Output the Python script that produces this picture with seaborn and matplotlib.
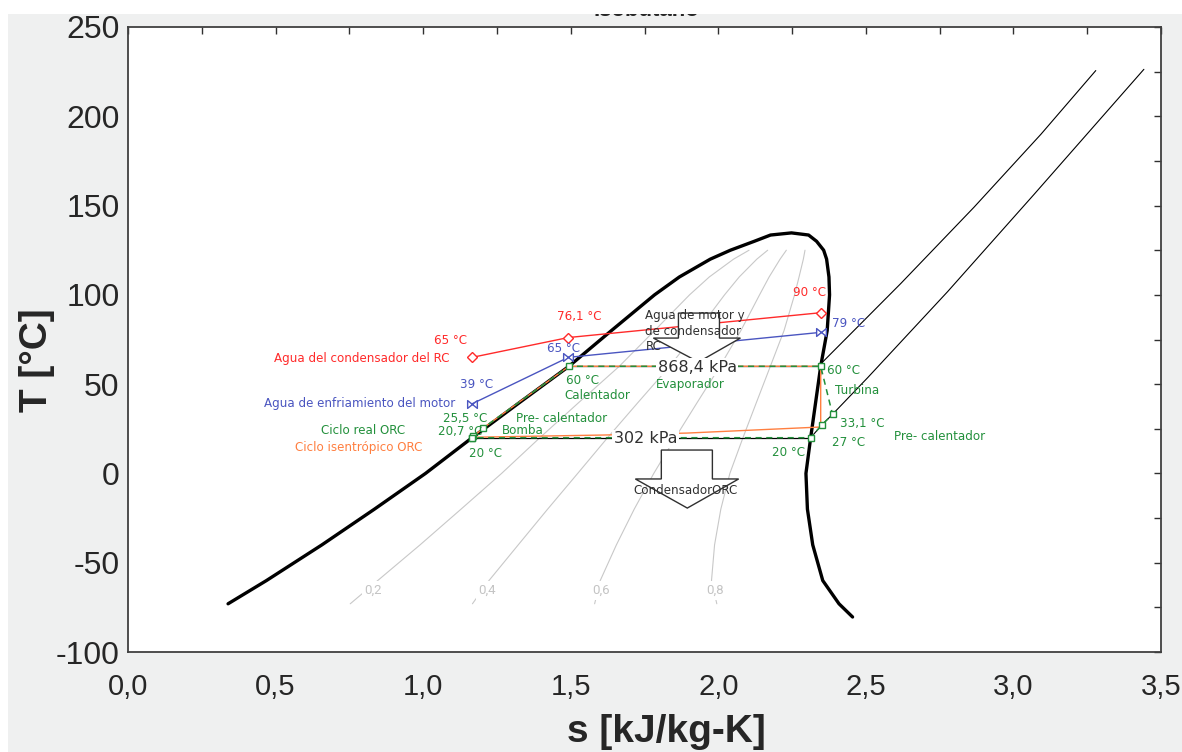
import numpy as np
import matplotlib
matplotlib.use("Agg")
import matplotlib.pyplot as plt
from matplotlib.patches import Rectangle, Polygon
from matplotlib.path import Path
from matplotlib.ticker import FuncFormatter, MultipleLocator
import seaborn as sns

# ---------------- data ----------------
# saturation dome of isobutane (T in degC, s in kJ/kg-K)
T_sat = [-73, -60, -40, -20, 0, 20, 40, 60, 80, 100, 110, 120, 125, 130, 133.5, 134.7]
s_liq = [0.339, 0.469, 0.657, 0.835, 1.008, 1.166, 1.329, 1.494, 1.638, 1.784, 1.868,
         1.973, 2.041, 2.122, 2.177, 2.248]
s_vap = [2.409, 2.354, 2.320, 2.302, 2.297, 2.313, 2.330, 2.347, 2.369, 2.377, 2.375,
         2.367, 2.357, 2.333, 2.306, 2.248]
T_vap_low = [-80.4]
s_vap_low = [2.455]

qualities = [0.2, 0.4, 0.6, 0.8]
quality_labels = ["0,2", "0,4", "0,6", "0,8"]
quality_label_s = [0.831, 1.218, 1.604, 1.990]
quality_label_T = -65.7

# superheated isobars
hp_s = [2.347, 2.353, 2.618, 2.866, 3.093, 3.279]
hp_T = [60.0, 62.3, 106.3, 149.0, 189.9, 225.6]
lp_s = [2.313, 2.350, 2.387, 2.506, 2.777, 3.069, 3.442]
lp_T = [20.0, 27.0, 33.1, 53.6, 101.8, 156.1, 226.3]

# isobars inside the dome
iso_high_T, iso_high_s = 60.0, [1.494, 2.347]
iso_low_T, iso_low_s = 20.0, [1.166, 2.313]

# real ORC cycle
real_s = [1.166, 1.170, 1.204, 1.494, 2.347, 2.387, 2.350, 2.313, 1.166]
real_T = [20.0, 20.7, 25.5, 60.0, 60.0, 33.1, 27.0, 20.0, 20.0]

# isentropic ORC cycle
isen_s = [1.166, 1.204, 1.494, 2.347, 2.347, 1.894, 1.610, 1.180, 1.166]
isen_T = [20.0, 25.5, 60.0, 60.0, 26.0, 22.6, 21.5, 20.3, 20.0]

# RC condenser water
red_s = [1.166, 1.492, 2.347]
red_T = [65.0, 76.1, 90.0]
# engine cooling water
blue_s = [1.166, 1.492, 2.347]
blue_T = [39.0, 65.0, 79.0]

x_ticks = [0.0, 0.5, 1.0, 1.5, 2.0, 2.5, 3.0, 3.5]
y_ticks = [-100, -50, 0, 50, 100, 150, 200, 250]

# ---------------- style ----------------
sns.set_style("white")
plt.rcParams['font.family'] = ['DejaVu Sans']

GREEN = '#23903c'
RED = '#ff2a2a'
BLUE = '#4a55c0'
ORANGE = '#ff7f40'
QGRAY = '#c8c8c8'
SANS = ['Liberation Sans', 'DejaVu Sans']

fig = plt.figure(figsize=(11.82, 7.52), dpi=100, facecolor='#eff0f0')
ax = fig.add_axes([128 / 1182, 100 / 752, (1161 - 128) / 1182, (652 - 27) / 752])
ax.set_facecolor('white')

def line(x, y, **kw):
    sns.lineplot(x=x, y=y, sort=False, estimator=None, ax=ax, legend=False, **kw)

# quality lines
sf = np.array(s_liq[:13])
sg = np.array(s_vap[:13])
Tq = np.array(T_sat[:13])
for q in qualities:
    line(list(sf + q * (sg - sf)), list(Tq), color=QGRAY, lw=0.8, zorder=1)
for lab, xs in zip(quality_labels, quality_label_s):
    ax.text(xs, quality_label_T, lab, color='#c4c4c4', fontsize=9.5, ha='center', va='center',
            zorder=2, bbox=dict(facecolor='white', edgecolor='none', pad=2.0),
            family=['Roboto', 'DejaVu Sans'])

# dome
dome_s = s_liq + s_vap[::-1] + s_vap_low
dome_T = T_sat + T_sat[::-1] + T_vap_low
line(dome_s, dome_T, color='black', lw=2.4, zorder=4)

# superheated isobars
line(hp_s, hp_T, color='black', lw=0.8, zorder=3)
line(lp_s, lp_T, color='black', lw=0.8, zorder=3)
# isobars in dome
line(iso_high_s, [iso_high_T] * 2, color='black', lw=0.9, zorder=3)
line(iso_low_s, [iso_low_T] * 2, color='black', lw=0.9, zorder=3)

# isentropic cycle
line(isen_s, isen_T, color=ORANGE, lw=1.0, zorder=5)
# real cycle
ax.plot(real_s, real_T, color=GREEN, lw=1.1, ls=(0, (4, 3)), zorder=6)
ax.plot(real_s, real_T, ls='none', marker='s', ms=5, mfc='white', mec=GREEN, mew=1.0, zorder=7)

# water lines
bowtie = Path([(-1, -0.8), (-1, 0.8), (0, 0), (-1, -0.8), (1, -0.8), (1, 0.8), (0, 0), (1, -0.8)],
              [Path.MOVETO, Path.LINETO, Path.LINETO, Path.CLOSEPOLY,
               Path.MOVETO, Path.LINETO, Path.LINETO, Path.CLOSEPOLY])
line(red_s, red_T, color=RED, lw=1.0, zorder=6)
ax.plot(red_s, red_T, ls='none', marker='D', ms=5, mfc='white', mec=RED, mew=1.0, zorder=7)
line(blue_s, blue_T, color=BLUE, lw=1.0, zorder=6)
ax.plot(blue_s, blue_T, ls='none', marker=bowtie, ms=7, mfc='white', mec=BLUE, mew=1.0, zorder=7)

# block arrows (annotations)
arrow1 = [(1.865, 89.8), (1.865, 75.8), (1.780, 75.8), (1.933, 62.4), (2.075, 75.8),
          (2.004, 75.8), (2.004, 89.8)]
arrow2 = [(1.807, 13.1), (1.807, -3.1), (1.719, -3.1), (1.895, -19.4), (2.069, -3.1),
          (1.980, -3.1), (1.980, 13.1)]
for pts in (arrow1, arrow2):
    ax.add_patch(Polygon(pts, closed=True, facecolor='white', edgecolor='#303030', lw=1.0, zorder=8))

# texts
fs = 8.6
def t(x, y, s, c, ha='center', va='center', **kw):
    ax.text(x, y, s, color=c, fontsize=kw.pop('fontsize', fs), ha=ha, va=va, zorder=10, **kw)

t(1.089, 64.1, "Agua del condensador del RC", RED, ha='right')
t(1.092, 74.2, "65 °C", RED)
t(1.529, 88.1, "76,1 °C", RED)
t(2.309, 101.6, "90 °C", RED)
t(1.109, 38.9, "Agua de enfriamiento del motor", BLUE, ha='right')
t(1.180, 49.6, "39 °C", BLUE)
t(1.475, 69.7, "65 °C", BLUE)
t(2.441, 84.2, "79 °C", BLUE)
t(1.540, 51.8, "60 °C", GREEN)
t(1.590, 43.4, "Calentador", GREEN)
t(1.468, 31.0, "Pre- calentador", GREEN)
t(1.143, 31.0, "25,5 °C", GREEN)
t(1.126, 23.2, "20,7 °C", GREEN)
t(1.339, 24.3, "Bomba", GREEN)
t(0.797, 24.3, "Ciclo real ORC", GREEN)
t(0.780, 14.8, "Ciclo isentrópico ORC", ORANGE)
t(1.211, 11.4, "20 °C", GREEN)
t(1.929, 59.6, "868,4 kPa", '#303030', fontsize=11.5,
  bbox=dict(facecolor='white', edgecolor='none', pad=1.0))
t(1.906, 49.6, "Evaporador", GREEN)
t(2.425, 57.9, "60 °C", GREEN)
t(2.472, 46.2, "Turbina", GREEN)
t(2.489, 27.7, "33,1 °C", GREEN)
t(2.441, 17.6, "27 °C", GREEN)
t(2.750, 20.4, "Pre- calentador", GREEN)
t(2.238, 12.0, "20 °C", GREEN)
t(1.753, 19.3, "302 kPa", '#303030', fontsize=11.5,
  bbox=dict(facecolor='white', edgecolor='none', pad=1.0))
t(1.889, -9.8, "CondensadorORC", '#303030')
t(1.753, 92.0, "Agua de motor y\nde condensador\nRC", '#303030', ha='left', va='top',
  linespacing=1.25)

# axes formatting
ax.set_xlim(0, 3.5)
ax.set_ylim(-100, 250)
ax.set_xticks(x_ticks)
ax.set_yticks(y_ticks)
ax.xaxis.set_minor_locator(MultipleLocator(0.25))
ax.yaxis.set_minor_locator(MultipleLocator(25))
ax.xaxis.set_major_formatter(FuncFormatter(lambda v, p: f"{v:.1f}".replace('.', ',')))
ax.yaxis.set_major_formatter(FuncFormatter(lambda v, p: f"{int(round(v))}"))
ax.tick_params(which='both', direction='in', top=True, right=True, length=5, width=1.0,
               color='#303030')
ax.tick_params(axis='x', labelsize=21, pad=15)
ax.tick_params(axis='y', labelsize=23, pad=6)
for lab in ax.get_xticklabels() + ax.get_yticklabels():
    lab.set_family(SANS)
for sp in ax.spines.values():
    sp.set_color('#404040')
    sp.set_linewidth(1.3)
ax.set_xlabel("s [kJ/kg-K]", fontsize=28, fontweight='bold', family=SANS)
ax.set_ylabel("T [°C]", fontsize=28, fontweight='bold', family=SANS)
ax.xaxis.set_label_coords(0.521, -0.100)
ax.yaxis.set_label_coords(-0.071, 0.467)

# clipped title and white screenshot borders
fig.text(646 / 1182, 1 - 16 / 752, "Isobutano", fontsize=16, fontweight='bold',
         ha='center', va='baseline', zorder=1, family=SANS)
fig.add_artist(Rectangle((0, 1 - 14 / 752), 1, 14 / 752, transform=fig.transFigure,
                         facecolor='white', edgecolor='none', zorder=50))
fig.add_artist(Rectangle((0, 0), 8 / 1182, 1, transform=fig.transFigure,
                         facecolor='white', edgecolor='none', zorder=50))

fig.savefig("out.png", dpi=100, facecolor=fig.get_facecolor())
